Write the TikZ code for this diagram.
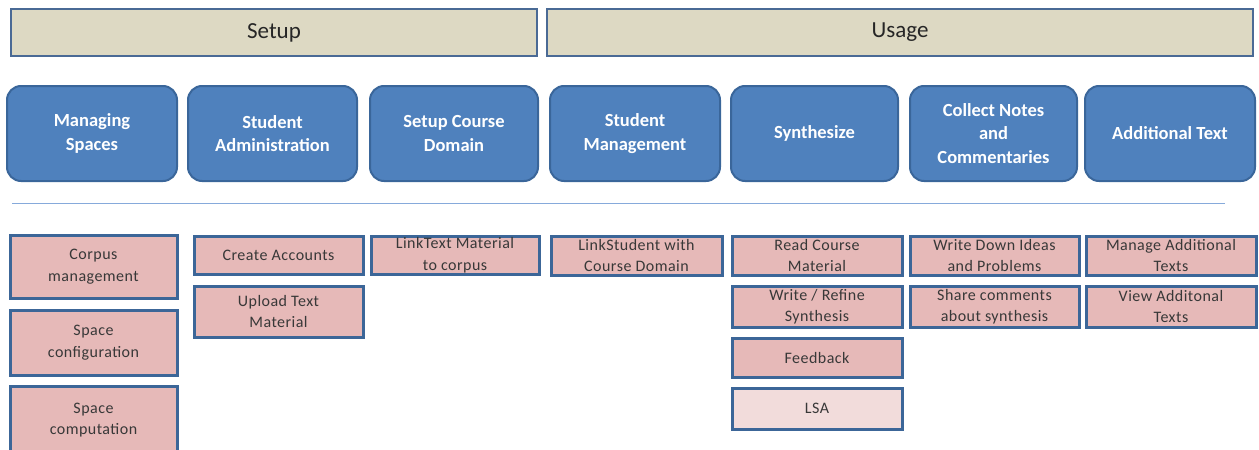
\documentclass[tikz,border=0pt]{standalone}
\usepackage{fontspec}
\setmainfont{Carlito}
\newfontfamily\spacedfont[LetterSpace=3]{Carlito}
\definecolor{hdrfill}{HTML}{DDD9C3}
\definecolor{hdrborder}{HTML}{4A6A95}
\definecolor{bluefill}{HTML}{4F81BD}
\definecolor{blueborder}{HTML}{3A669A}
\definecolor{pinkfill}{HTML}{E6B9B8}
\definecolor{lsafill}{HTML}{F2DCDB}
\definecolor{pinkborder}{HTML}{3C6698}
\definecolor{sepline}{HTML}{86AADB}
\begin{document}
\begin{tikzpicture}[x=1pt,y=-1pt,
  hdr/.style={draw=hdrborder, line width=2pt, fill=hdrfill, anchor=north west, inner sep=0pt,
    text=black!85, font=\fontsize{23}{26}\selectfont},
  cat/.style={draw=blueborder, line width=2pt, fill=bluefill, rounded corners=14pt, anchor=north west,
    inner sep=0pt, align=center, text=white, font=\bfseries\fontsize{18.5}{23.5}\selectfont},
  task/.style={draw=pinkborder, line width=3pt, fill=pinkfill, anchor=north west, inner sep=0pt,
    align=center, text=black!78, font=\spacedfont\fontsize{16}{21.5}\selectfont},
  lsa/.style={task, fill=lsafill}]
\useasboundingbox (0,0) rectangle (1259,450);
% headers
\node[hdr, minimum width=526pt, minimum height=47pt] (setup) at (10,8) {Setup};
\node[hdr, minimum width=706pt, minimum height=47pt] (usage) at (546,8) {Usage};
% categories
\node[cat, minimum width=170pt, minimum height=95pt] (c1) at (6,85) {Managing\\Spaces};
\node[cat, minimum width=169pt, minimum height=95pt] (c2) at (187,85) {Student\\Administration};
\node[cat, minimum width=168pt, minimum height=95pt] (c3) at (369,85) {Setup Course\\Domain};
\node[cat, minimum width=170pt, minimum height=95pt] (c4) at (549,85) {Student\\Management};
\node[cat, minimum width=167pt, minimum height=95pt] (c5) at (730,85) {Synthesize};
\node[cat, minimum width=167pt, minimum height=95pt] (c6) at (909,85) {Collect Notes\\and\\Commentaries};
\node[cat, minimum width=170pt, minimum height=95pt] (c7) at (1084,85) {Additional Text};
% separator
\coordinate (sl) at (12,203);
\coordinate (sr) at (1225,203);
\draw[sepline, line width=1pt] (sl) -- (sr);
% tasks
\node[task, minimum width=167pt, minimum height=63pt] (t1) at (8.5,233.5) {Corpus\\management};
\node[task, minimum width=167pt, minimum height=65pt] (t2) at (8.5,308.5) {Space\\configuration};
\node[task, minimum width=167pt, minimum height=68pt] (t3) at (8.5,384.5) {Space\\computation};
\node[task, minimum width=169pt, minimum height=38pt] (t4) at (192.5,234.5) {Create Accounts};
\node[task, minimum width=169pt, minimum height=51pt] (t5) at (192.5,284.5) {Upload Text\\Material};
\node[task, minimum width=168pt, minimum height=38pt] (t6) at (369.5,234.5) {LinkText Material\\to corpus};
\node[task, minimum width=171pt, minimum height=39pt] (t7) at (549.5,234.5) {LinkStudent with\\Course Domain};
\node[task, minimum width=170pt, minimum height=39pt] (t8) at (730.5,234.5) {Read Course\\Material};
\node[task, minimum width=170pt, minimum height=41pt] (t9) at (730.5,284.5) {Write / Refine\\Synthesis};
\node[task, minimum width=170pt, minimum height=39pt] (t10) at (730.5,336.5) {Feedback};
\node[lsa, minimum width=170pt, minimum height=41pt] (t11) at (730.5,386.5) {LSA};
\node[task, minimum width=169pt, minimum height=39pt] (t12) at (908.5,234.5) {Write Down Ideas\\and Problems};
\node[task, minimum width=169pt, minimum height=41pt] (t13) at (908.5,284.5) {Share comments\\about synthesis};
\node[task, minimum width=170pt, minimum height=39pt] (t14) at (1084.5,234.5) {Manage Additional\\Texts};
\node[task, minimum width=170pt, minimum height=41pt] (t15) at (1084.5,284.5) {View Additonal\\Texts};
\end{tikzpicture}
\end{document}
